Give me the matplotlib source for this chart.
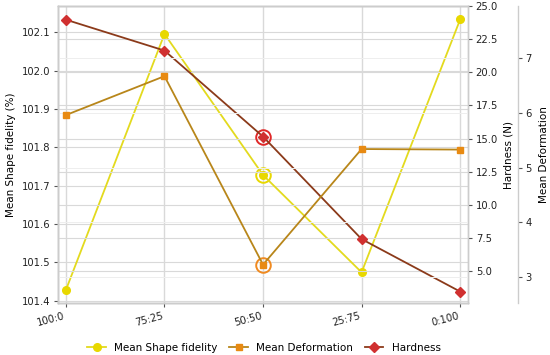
import matplotlib
matplotlib.use("Agg")
import matplotlib.pyplot as plt
import numpy as np

categories = ["100:0", "75:25", "50:50", "25:75", "0:100"]
shape_fidelity = [101.428, 102.096, 101.728, 101.474, 102.134]
deformation = [5.96, 6.67, 3.23, 5.34, 5.33]
hardness = [23.97, 21.64, 15.15, 7.42, 3.46]
highlight_idx = 2

plt.rcParams['font.family'] = ['DejaVu Sans']
fig = plt.figure(figsize=(5.5, 3.55), dpi=100)
ax = fig.add_axes([0.1055, 0.1465, 0.7455, 0.8365])
ax2 = ax.twinx()
ax3 = ax.twinx()
ax3.spines['right'].set_position(('axes', 1.121))

x = np.arange(len(categories))
grid_c = '#d9d9d9'
spine_c = '#cccccc'

for a in (ax, ax2, ax3):
    for s in a.spines.values():
        s.set_color(spine_c)
        s.set_linewidth(1.0)
    a.tick_params(labelsize=7.2, length=3, width=0.8, color='#555555', labelcolor='#222222', pad=2.5)
    a.grid(True, color=grid_c, linewidth=0.8)
    a.set_axisbelow(True)
ax.grid(True, axis='x', color=grid_c, linewidth=1.0)
ax2.grid(True, axis='y', color=grid_c, linewidth=0.8)
ax2.grid(False, axis='x')
ax3.grid(True, axis='y', color='#eeeeee', linewidth=0.7)
ax3.grid(False, axis='x')

l1, = ax.plot(x, shape_fidelity, color='#e3da1e', lw=1.3, marker='o', ms=5.5,
              mfc='#e8d800', mec='#e8d800', label='Mean Shape fidelity', zorder=3)
l2, = ax3.plot(x, deformation, color='#b8861a', lw=1.3, marker='s', ms=5,
               mfc='#e88a12', mec='#e88a12', label='Mean Deformation', zorder=3)
l3, = ax2.plot(x, hardness, color='#8b3a1a', lw=1.3, marker='D', ms=5,
               mfc='#d03030', mec='#d03030', label='Hardness', zorder=3)

ax.plot(x[highlight_idx], shape_fidelity[highlight_idx], 'o', ms=10.5, mfc='none', mec='#e8d800', mew=1.4)
ax3.plot(x[highlight_idx], deformation[highlight_idx], 'o', ms=10.5, mfc='none', mec='#f08a20', mew=1.4)
ax2.plot(x[highlight_idx], hardness[highlight_idx], 'o', ms=10.5, mfc='none', mec='#e02828', mew=1.4)

ax.set_xlim(-0.08, 4.08)
ax.set_ylim(101.394, 102.169)
ax.set_yticks([101.4, 101.5, 101.6, 101.7, 101.8, 101.9, 102.0, 102.1])
ax2.set_ylim(2.6, 25.0)
hard_ticks = [5.0, 7.5, 10.0, 12.5, 15.0, 17.5, 20.0, 22.5, 25.0]
ax2.set_yticks(hard_ticks)
ax2.set_yticklabels([f"{v:.1f}" for v in hard_ticks])
ax3.set_ylim(2.53, 7.95)
ax3.set_yticks([3, 4, 5, 6, 7])

ax.set_xticks(x)
ax.set_xticklabels(categories, rotation=15, ha='right', rotation_mode='default', fontsize=7.2)
ax.set_ylabel('Mean Shape fidelity (%)', fontsize=7.5, labelpad=4)
ax2.set_ylabel('Hardness (N)', fontsize=7.5, labelpad=4)
ax3.set_ylabel('Mean Deformation', fontsize=7.5, labelpad=5)

fig.legend(handles=[l1, l2, l3], loc='lower center', bbox_to_anchor=(0.48, -0.02),
           ncol=3, frameon=False, fontsize=7.5, columnspacing=1.1, handlelength=1.8)

fig.savefig('out.png', dpi=100)
